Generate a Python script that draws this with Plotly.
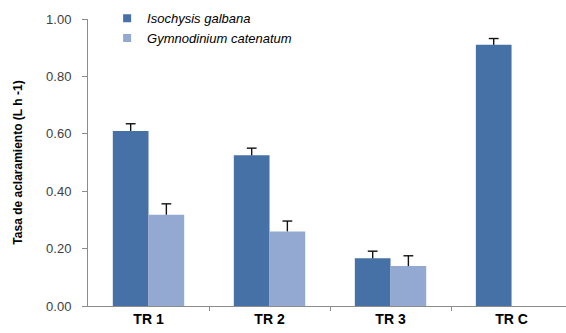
import plotly.graph_objects as go

categories = ["TR 1", "TR 2", "TR 3", "TR C"]
isochrysis = [0.61, 0.525, 0.166, 0.91]
isochrysis_err = [0.025, 0.025, 0.025, 0.022]
gymnodinium = [0.318, 0.26, 0.139, None]
gymnodinium_err = [0.038, 0.036, 0.036, None]
y_ticks = [0.0, 0.2, 0.4, 0.6, 0.8, 1.0]

dark = "#4671A6"
light = "#93A9D1"

bar_w = 0.295                      # width of one bar, in category units
idx = list(range(len(categories)))
series = [
    ("Isochysis galbana", isochrysis, isochrysis_err, dark, -bar_w / 2),
    ("Gymnodinium catenatum", gymnodinium, gymnodinium_err, light, bar_w / 2),
]

fig = go.Figure()
for name, vals, errs, color, shift in series:
    xs = [i + shift for i in idx]
    fig.add_trace(go.Bar(
        x=xs, y=vals, width=bar_w, name=name, showlegend=False,
        marker=dict(color=color, line=dict(width=0)),
    ))
    # upper error bars: stem from bar top to top+err, cap at the end
    ex, ey, cx, cy = [], [], [], []
    for x, v, e in zip(xs, vals, errs):
        if v is None or e is None:
            continue
        ex += [x, x, None]
        ey += [v, v + e, None]
        cx.append(x)
        cy.append(v + e)
    fig.add_trace(go.Scatter(
        x=ex, y=ey, mode="lines", showlegend=False, hoverinfo="skip",
        line=dict(color="#111111", width=1.4),
    ))
    fig.add_trace(go.Scatter(
        x=cx, y=cy, mode="markers", showlegend=False, hoverinfo="skip",
        marker=dict(symbol="line-ew", size=7, line=dict(color="#111111", width=1.4)),
    ))
    # legend entry with a small square swatch
    fig.add_trace(go.Scatter(
        x=[None], y=[None], mode="markers", name=name,
        marker=dict(symbol="square", size=8, color=color),
    ))

fig.update_layout(
    width=566, height=333,
    margin=dict(l=88, r=0, t=19, b=27),
    paper_bgcolor="white", plot_bgcolor="white",
    font=dict(family="Arial, Liberation Sans, sans-serif", size=13, color="#404040"),
    showlegend=True,
    legend=dict(x=0.04, y=1.055, xanchor="left", yanchor="top",
                bgcolor="rgba(0,0,0,0)", tracegroupgap=0,
                font=dict(size=13, color="#000000", style="italic"),
                itemwidth=30),
    xaxis=dict(
        range=[-0.5, 3.45], showgrid=False, zeroline=False,
        showline=True, linecolor="#8C8C8C", linewidth=1,
        tickmode="array", tickvals=idx, ticktext=categories, ticks="",
        tickfont=dict(size=14, color="#000000", weight="bold"),
        minor=dict(tickmode="array", tickvals=[i + 0.5 for i in idx],
                   ticks="outside", ticklen=4, tickcolor="#8C8C8C", showgrid=False),
    ),
    yaxis=dict(
        range=[0, 1.0], tickvals=y_ticks, tickformat=".2f",
        showgrid=False, zeroline=False,
        showline=True, linecolor="#8C8C8C", linewidth=1,
        ticks="outside", ticklen=5, tickcolor="#8C8C8C",
        ticklabelstandoff=8,
        tickfont=dict(size=13, color="#404040"),
        title=dict(text="Tasa de aclaramiento (L h -1)", standoff=20,
                   font=dict(size=12, color="#000000", weight="bold")),
    ),
)

fig.write_html("out.html")
